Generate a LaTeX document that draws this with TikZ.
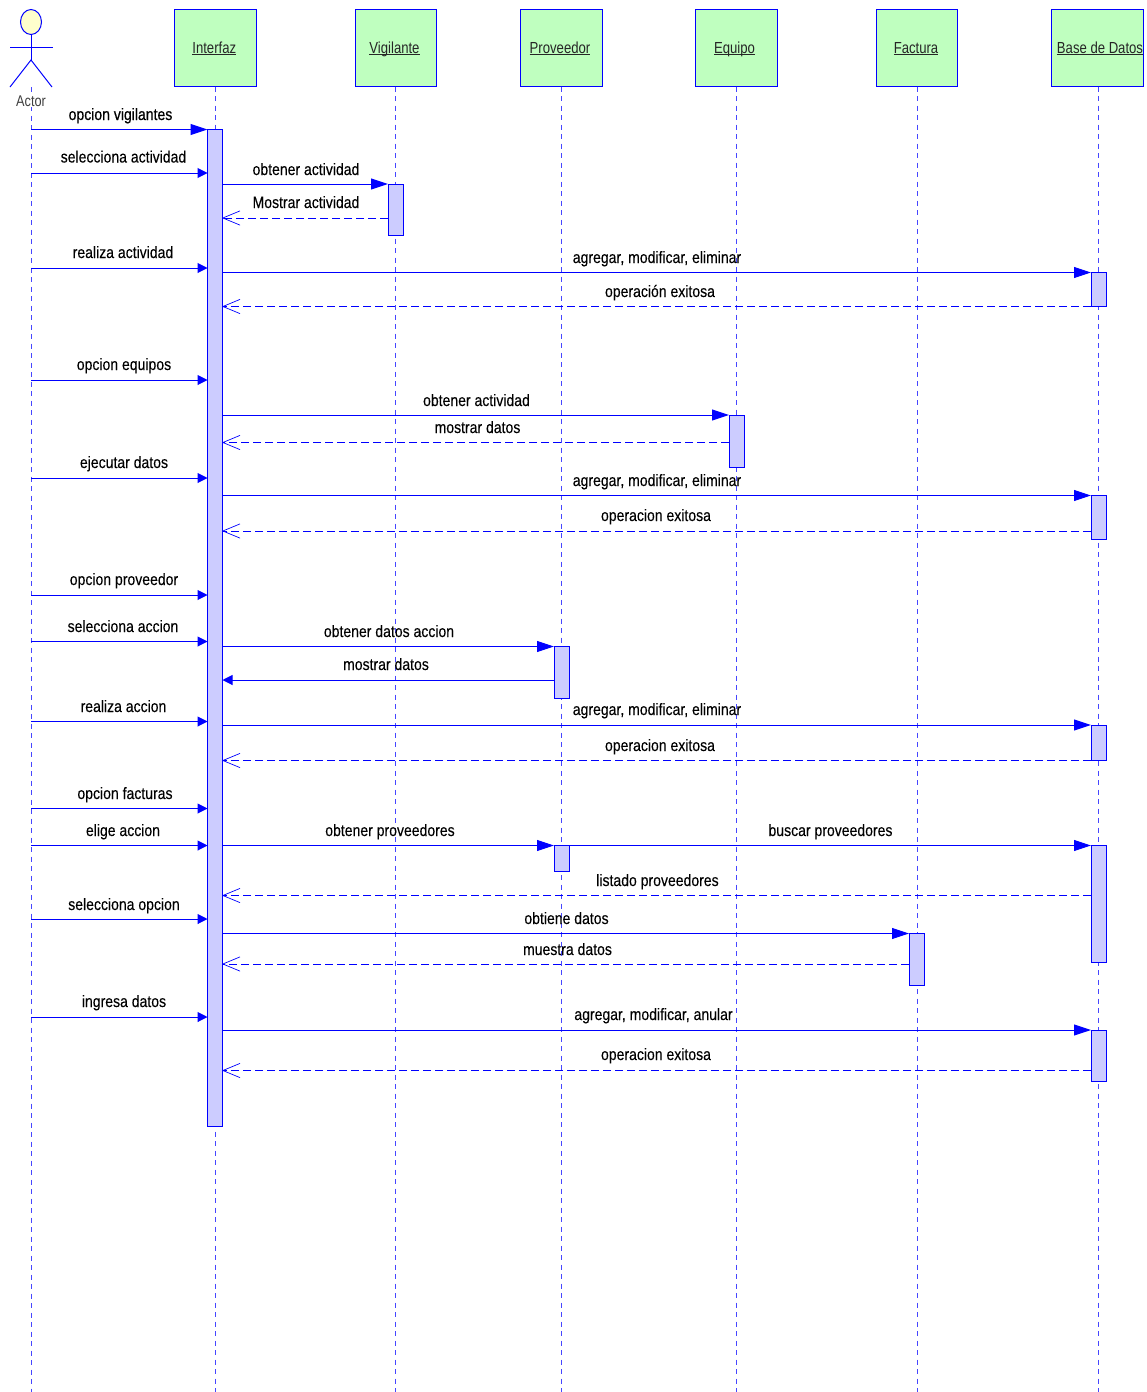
\documentclass[tikz,border=0pt]{standalone}
\usepackage{fontspec}
\setmainfont{Liberation Sans}[FakeStretch=0.82]
\newfontfamily\msgfont{Liberation Sans}[FakeStretch=0.85,FakeBold=0.15]
\newfontfamily\msgboldfont{Liberation Sans}[FakeStretch=0.85,FakeBold=0.6]
\usetikzlibrary{arrows.meta,shapes.geometric}
\definecolor{umlblue}{RGB}{0,0,255}
\definecolor{lifeblue}{RGB}{70,70,255}
\definecolor{headfill}{RGB}{191,255,191}
\definecolor{barfill}{RGB}{204,204,255}
\definecolor{actorfill}{RGB}{255,255,204}
\tikzset{
  header/.style={draw=umlblue,fill=headfill,line width=1pt,inner sep=0pt,outer sep=0pt,minimum height=77pt,font=\fontsize{16pt}{17pt}\selectfont,text=black!85,text height=12pt,text depth=1.5pt},
  actbar/.style={draw=umlblue,fill=barfill,line width=1pt,inner sep=0pt,outer sep=0pt,minimum width=15pt},
  lifeline/.style={draw=lifeblue,line width=1pt,dash pattern=on 5pt off 4.5pt},
  bigcall/.style={draw=umlblue,line width=1pt,-{Triangle[length=17pt,width=11pt,fill=umlblue]}},
  smallcall/.style={draw=umlblue,line width=1pt,-{Triangle[length=10pt,width=10pt,fill=umlblue]}},
  reply/.style={draw=umlblue,line width=1pt,dash pattern=on 8.5pt off 3.5pt,-{Straight Barb[length=17pt,width=14pt,angle'=45,line width=0.7pt,round=false]}},
  msglabel/.style={inner sep=0pt,outer sep=0pt,font=\fontsize{16.5pt}{17pt}\msgfont,text=black,text height=12.5pt,text depth=2.5pt},
  actorline/.style={draw=umlblue,line width=1pt},
}
% name, centre x, top y, bottom y
\newcommand{\actbar}[4]{\node[actbar,minimum height=#4pt-#3pt] (#1) at (#2,{(#3+#4)/2}) {};}
% style, from node, to node, y
\newcommand{\msgline}[4]{\draw[#1] (#2 |- 0,#4) -- (#3 |- 0,#4);}
% name, x, y, text
\newcommand{\msgtext}[4]{\node[msglabel] (#1) at (#2,#3) {#4};}
% header text shifted by twice the offset
\newcommand{\headtext}[2]{\hspace*{#1pt}\underline{\smash{#2}}}
\begin{document}
\begin{tikzpicture}[x=1pt,y=-1pt]
\useasboundingbox (0,0) rectangle (1147,1392);
% headers
\node[header,minimum width=81.5pt] (hint) at (215.25,48) {\headtext{-2}{Interfaz}};
\node[header,minimum width=81.5pt] (hvig) at (395.75,48) {\headtext{-2.5}{Vigilante}};
\node[header,minimum width=81.5pt] (hpro) at (561.25,48) {\headtext{-2.5}{Proveedor}};
\node[header,minimum width=81.5pt] (hequ) at (736.5,48) {\headtext{-4}{Equipo}};
\node[header,minimum width=81.5pt] (hfac) at (917,48) {\headtext{-2}{Factura}};
\node[header,minimum width=91pt] (hbd) at (1097.5,48) {\headtext{5}{Base de Datos}};
% lifeline ends
\coordinate (eact) at (31,1392);
\coordinate (eint) at (215,1392);
\coordinate (evig) at (395,1392);
\coordinate (epro) at (561,1392);
\coordinate (eequ) at (736.5,1392);
\coordinate (efac) at (917,1392);
\coordinate (ebd) at (1098.5,1392);
\coordinate (sact) at (31,87);
% lifelines
\draw[lifeline] (sact) -- (eact);
\draw[lifeline] (eint |- hint.south) -- (eint);
\draw[lifeline] (evig |- hvig.south) -- (evig);
\draw[lifeline] (epro |- hpro.south) -- (epro);
\draw[lifeline] (eequ |- hequ.south) -- (eequ);
\draw[lifeline] (efac |- hfac.south) -- (efac);
\draw[lifeline] (ebd |- hbd.south) -- (ebd);
% actor
\node[draw=umlblue,fill=actorfill,line width=1pt,ellipse,minimum width=21pt,minimum height=25pt,inner sep=0pt,outer sep=0pt] (ahead) at (31,22) {};
\coordinate (ahip) at (31,60);
\coordinate (aarml) at (10,47.5);
\coordinate (aarmr) at (53,47.5);
\coordinate (alegl) at (10,87);
\coordinate (alegr) at (52,87);
\draw[actorline] (ahead.south) -- (ahip);
\draw[actorline] (aarml) -- (aarmr);
\draw[actorline] (alegl) -- (ahip) -- (alegr);
\node[fill=white,inner sep=1pt,font=\fontsize{15.5pt}{16pt}\selectfont,text=black!75] (alabel) at (31,101) {Actor};
% activation bars
\actbar{ibar}{215}{129.5}{1126}
\actbar{vbar}{395.5}{184}{235}
\actbar{dbara}{1098.5}{272.5}{306}
\actbar{ebar}{736.5}{415}{467}
\actbar{dbarb}{1098.5}{495.5}{539}
\actbar{pbara}{561.5}{646.5}{698}
\actbar{dbarc}{1098.5}{725}{760.5}
\actbar{pbarb}{561.5}{845.5}{871}
\actbar{dbard}{1098.5}{845.5}{962.5}
\actbar{fbar}{916.5}{933.5}{985}
\actbar{dbare}{1098.5}{1030}{1081}
% messages
\msgline{bigcall}{eact}{ibar.west}{129.5}
\msgline{smallcall}{eact}{ibar.west}{173}
\msgline{bigcall}{ibar.east}{vbar.west}{184}
\msgline{reply}{vbar.west}{ibar.east}{218}
\msgline{smallcall}{eact}{ibar.west}{268}
\msgline{bigcall}{ibar.east}{dbara.west}{272.5}
\msgline{reply}{dbara.west}{ibar.east}{306.5}
\msgline{smallcall}{eact}{ibar.west}{380}
\msgline{bigcall}{ibar.east}{ebar.west}{415}
\msgline{reply}{ebar.west}{ibar.east}{442.5}
\msgline{smallcall}{eact}{ibar.west}{478}
\msgline{bigcall}{ibar.east}{dbarb.west}{495.5}
\msgline{reply}{dbarb.west}{ibar.east}{531}
\msgline{smallcall}{eact}{ibar.west}{595}
\msgline{smallcall}{eact}{ibar.west}{641.5}
\msgline{bigcall}{ibar.east}{pbara.west}{646.5}
\msgline{smallcall}{pbara.west}{ibar.east}{680}
\msgline{smallcall}{eact}{ibar.west}{721.5}
\msgline{bigcall}{ibar.east}{dbarc.west}{725}
\msgline{reply}{dbarc.west}{ibar.east}{760.5}
\msgline{smallcall}{eact}{ibar.west}{808.5}
\msgline{smallcall}{eact}{ibar.west}{845.5}
\msgline{bigcall}{ibar.east}{pbarb.west}{845.5}
\msgline{bigcall}{pbarb.east}{dbard.west}{845.5}
\msgline{reply}{dbard.west}{ibar.east}{895.5}
\msgline{smallcall}{eact}{ibar.west}{919}
\msgline{bigcall}{ibar.east}{fbar.west}{933.5}
\msgline{reply}{fbar.west}{ibar.east}{964}
\msgline{smallcall}{eact}{ibar.west}{1017}
\msgline{bigcall}{ibar.east}{dbare.west}{1030}
\msgline{reply}{dbare.west}{ibar.east}{1070.5}
% labels
\msgtext{t1}{120.5}{115}{\msgboldfont opcion vigilantes}
\msgtext{t2}{123.5}{157.5}{selecciona actividad}
\msgtext{t3}{306}{170}{obtener actividad}
\msgtext{t4}{306}{203}{Mostrar actividad}
\msgtext{t5}{123}{253}{realiza actividad}
\msgtext{t6}{657}{258}{agregar, modificar, eliminar}
\msgtext{t7}{660}{292}{operación exitosa}
\msgtext{t8}{124}{365}{opcion equipos}
\msgtext{t9}{476.5}{401}{obtener actividad}
\msgtext{t10}{477.5}{428}{mostrar datos}
\msgtext{t11}{124}{463}{ejecutar datos}
\msgtext{t12}{657}{481}{agregar, modificar, eliminar}
\msgtext{t13}{656}{516}{operacion exitosa}
\msgtext{t14}{124}{580}{opcion proveedor}
\msgtext{t15}{123}{627}{selecciona accion}
\msgtext{t16}{389}{632}{obtener datos accion}
\msgtext{t17}{386}{665}{mostrar datos}
\msgtext{t18}{123.5}{707}{realiza accion}
\msgtext{t19}{657}{710}{agregar, modificar, eliminar}
\msgtext{t20}{660}{746}{operacion exitosa}
\msgtext{t21}{125}{794}{opcion facturas}
\msgtext{t22}{123}{831}{elige accion}
\msgtext{t23}{390}{831}{obtener proveedores}
\msgtext{t24}{830.5}{831}{buscar proveedores}
\msgtext{t25}{657.5}{881}{listado proveedores}
\msgtext{t26}{124}{905}{selecciona opcion}
\msgtext{t27}{566.5}{919}{obtiene datos}
\msgtext{t28}{567.5}{950}{muestra datos}
\msgtext{t29}{124}{1002}{ingresa datos}
\msgtext{t30}{653.5}{1015}{agregar, modificar, anular}
\msgtext{t31}{656}{1055}{operacion exitosa}
\end{tikzpicture}
\end{document}
